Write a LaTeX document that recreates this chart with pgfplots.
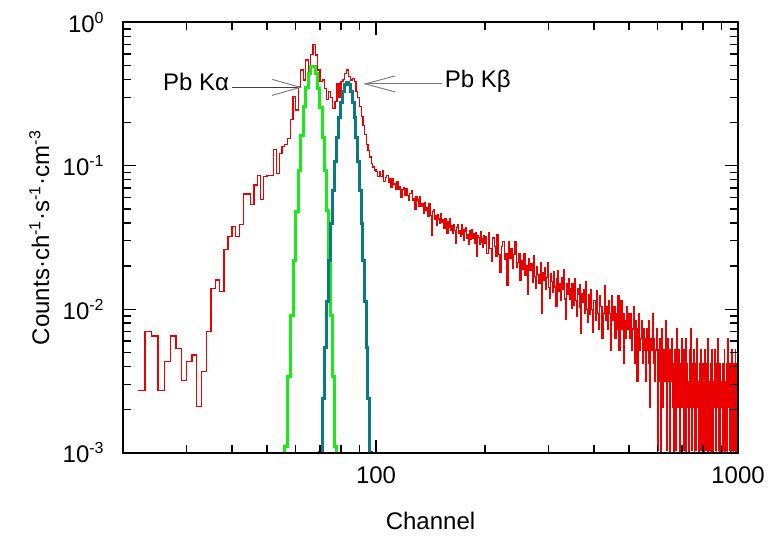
\documentclass[12pt,border=0pt]{standalone}
\usepackage{fontspec}
\setmainfont{Liberation Sans}
\usepackage{pgfplots}
\pgfplotsset{compat=1.18}

\definecolor{specred}{RGB}{235,0,0}
\definecolor{kagreen}{RGB}{25,235,25}
\definecolor{kbteal}{RGB}{10,122,128}

\begin{document}
\begin{tikzpicture}
\begin{axis}[
    name=ax,
    xmode=log, ymode=log,
    scale only axis,
    width=307.5pt, height=215.2pt,
    xmin=20, xmax=1000, ymin=1e-3, ymax=1,
    axis on top,
    xtick pos=both, ytick pos=both, tick align=inside,
    xtick={100,1000}, xticklabels={100,1000},
    minor xtick={30,40,50,60,70,80,90,200,300,400,500,600,700,800,900},
    ytick={0.001,0.01,0.1,1},
    yticklabels={10\textsuperscript{-3},10\textsuperscript{-2},10\textsuperscript{-1},10\textsuperscript{0}},
    minor ytick={0.002,0.003,0.004,0.005,0.006,0.007,0.008,0.009,0.02,0.03,0.04,0.05,0.06,0.07,0.08,0.09,0.2,0.3,0.4,0.5,0.6,0.7,0.8,0.9},
    major tick length=6.5pt, minor tick length=4pt,
    tick style={black, line width=0.7pt},
    axis line style={line width=0.8pt},
    xticklabel shift=7pt, yticklabel shift=9pt,
    every x tick label/.append style={inner sep=0pt},
    every y tick label/.append style={inner sep=0pt},
    xlabel={Channel},
    ylabel={Counts·ch\textsuperscript{-1}·s\textsuperscript{-1}·cm\textsuperscript{-3}},
    xlabel style={at={(axis description cs:0.5,-0.1794)}, anchor=base},
    ylabel style={at={(axis description cs:-0.1203,0.5)}, anchor=base},
]

% measured spectrum
\addplot[specred, line width=0.6pt] coordinates {(20,0.0016) (20,0.0059)};
\addplot[const plot, specred, line width=0.6pt] coordinates {
(22,0.0027)(23,0.0070)(24,0.0065)(25,0.0027)(26,0.0043)(27,0.0065)(28,0.0053)(29,0.0032)
(30,0.0043)(31,0.0048)(32,0.0021)(33,0.0037)(34,0.0070)(35,0.0140)(36,0.0160)(37,0.0133)
(38,0.026)(39,0.032)(40,0.0377)(41,0.032)(42,0.039)(43,0.0636)(44,0.0636)(45,0.054)
(46,0.0735)(47,0.085)(48,0.058)(49,0.084)(50,0.085)(51,0.085)(52,0.130)(53,0.088)
(54,0.122)(55,0.136)(56,0.140)(57,0.155)(58,0.21)(59,0.303)(60,0.245)(61,0.356)
(62,0.465)(63,0.396)(64,0.546)(65,0.43)(66,0.60)(67,0.70)(68,0.592)(69,0.465)
(70,0.386)(71,0.396)(72,0.347)(73,0.288)(74,0.33)(75,0.30)(76,0.251)(77,0.28)
(78,0.376)(79,0.30)(80,0.386)(81,0.40)(82,0.441)(83,0.465)(84,0.42)(85,0.396)
(86,0.407)(87,0.386)(88,0.33)(89,0.30)(90,0.26)(91,0.22)(92,0.19)(93,0.165)
(94,0.14)(95,0.128)(96,0.115)(97,0.104)(98,0.098)(99,0.0935)
(100,0.0908)(101,0.0845)(102,0.0914)(103,0.0843)(104,0.0918)(105,0.0781)(106,0.0830)(107,0.0859)
(108,0.0760)(109,0.0814)(110,0.0702)(111,0.0813)(112,0.0747)(113,0.0686)(114,0.0781)(115,0.0679)
(116,0.0718)(117,0.0598)(118,0.0683)(119,0.0700)(120,0.0618)(121,0.0698)(122,0.0624)(123,0.0570)
(124,0.0641)(125,0.0672)(126,0.0571)(127,0.0590)(128,0.0493)(129,0.0610)(130,0.0577)(131,0.0517)
(132,0.0605)(133,0.0524)(134,0.0541)(135,0.0468)(136,0.0551)(137,0.0485)(138,0.0510)(139,0.0446)
(140,0.0546)(141,0.0451)(142,0.0326)(143,0.0483)(144,0.0495)(145,0.0423)(146,0.0449)(147,0.0387)
(148,0.0460)(149,0.0425)(150,0.0395)(151,0.0465)(152,0.0402)(153,0.0421)(154,0.0364)(155,0.0431)
(156,0.0394)(157,0.0337)(158,0.0406)(159,0.0369)(160,0.0426)(161,0.0354)(162,0.0381)(163,0.0338)
(164,0.0392)(165,0.0356)(166,0.0286)(167,0.0373)(168,0.0387)(169,0.0336)(170,0.0354)(171,0.0321)
(172,0.0391)(173,0.0333)(174,0.0359)(175,0.0303)(176,0.0348)(177,0.0370)(178,0.0311)(179,0.0329)
(180,0.0281)(181,0.0351)(182,0.0330)(183,0.0306)(184,0.0360)(185,0.0310)(186,0.0334)(187,0.0288)
(188,0.0342)(189,0.0309)(190,0.0233)(191,0.0326)(192,0.0315)(193,0.0284)(194,0.0350)(195,0.0290)
(196,0.0312)(197,0.0268)(198,0.0325)(199,0.0287)
(200,0.0319)(202,0.0244)(204,0.0340)(206,0.0266)(208,0.0215)(210,0.0314)(212,0.0275)(214,0.0235)
(216,0.0330)(218,0.0240)(220,0.0181)(222,0.0275)(224,0.0297)(226,0.0224)(228,0.0246)(230,0.0146)
(232,0.0294)(234,0.0226)(236,0.0263)(238,0.0193)(240,0.0242)(242,0.0294)(244,0.0195)(246,0.0211)
(248,0.0244)(250,0.0158)(252,0.0220)(254,0.0189)(256,0.0244)(258,0.0172)(260,0.0202)(262,0.0127)
(264,0.0224)(266,0.0186)(268,0.0207)(270,0.0153)(272,0.0236)(274,0.0170)(276,0.0140)(278,0.0198)
(280,0.0175)(282,0.0152)(284,0.0212)(286,0.0093)(288,0.0181)(290,0.0159)(292,0.0194)(294,0.0137)
(296,0.0167)(298,0.0211)(300,0.0142)(302,0.0119)(304,0.0177)(306,0.0157)(308,0.0132)(310,0.0182)
(312,0.0143)(314,0.0104)(316,0.0163)(318,0.0185)(320,0.0134)(322,0.0151)(324,0.0115)(326,0.0165)
(328,0.0138)(330,0.0189)(332,0.0118)(334,0.0085)(336,0.0152)(338,0.0127)(340,0.0163)(342,0.0117)
(344,0.0140)(346,0.0101)(348,0.0152)(350,0.0128)(352,0.0107)(354,0.0164)(356,0.0115)(358,0.0089)
(360,0.0139)(362,0.0126)(364,0.0103)(366,0.0148)(368,0.0068)(370,0.0129)(372,0.0111)(374,0.0138)
(376,0.0093)(378,0.0120)(380,0.0155)(382,0.0100)(384,0.0081)(386,0.0126)(388,0.0108)(390,0.0092)
(392,0.0136)(394,0.0099)(396,0.0069)(398,0.0115)
(400,0.01144)(403,0.00832)(406,0.01352)(409,0.00936)(412,0.00728)(415,0.01248)(418,0.0104)(421,0.00624)
(424,0.00936)(427,0.01456)(430,0.00832)(433,0.0104)(436,0.00728)(439,0.01144)(442,0.00936)(445,0.0052)
(448,0.01248)(451,0.00832)(454,0.0104)(457,0.00624)(460,0.00936)(463,0.00728)(466,0.01248)(469,0.0052)
(472,0.00832)(475,0.01144)(478,0.00728)(481,0.00936)(484,0.00416)(487,0.00832)(490,0.00624)(493,0.0104)
(496,0.00728)(499,0.00936)(502,0.00624)(505,0.00936)(508,0.0052)(511,0.00728)(514,0.0104)(517,0.00416)
(520,0.00832)(523,0.00624)(526,0.00312)(529,0.00728)(532,0.00936)(535,0.0052)(538,0.00624)(541,0.00832)
(544,0.00416)(547,0.00728)(550,0.0052)(553,0.00624)(556,0.00312)(559,0.00728)(562,0.0052)(565,0.00832)
(568,0.00416)(571,0.00208)(574,0.00624)(577,0.0052)(580,0.00936)(583,0.00416)(586,0.00624)(589,0.00312)
(592,0.0052)(595,0.00728)(598,0.00104)(601,0.0052)(604,0.00312)(607,0.00624)(610,0.0005)(613,0.00416)
(616,0.00728)(619,0.00208)(622,0.0052)(625,0.00416)(628,0.00312)(631,0.00832)(634,0.00104)(637,0.00416)
(640,0.00624)(643,0.00312)(646,0.0005)(649,0.0052)(652,0.00312)(655,0.00624)(658,0.00208)(661,0.00416)
(664,0.0005)(667,0.0052)(670,0.00312)(673,0.00104)(676,0.00728)(679,0.00416)(682,0.00208)(685,0.0052)
(688,0.00312)(691,0.0005)(694,0.00416)(697,0.00624)(700,0.00208)(703,0.00416)(706,0.00104)(709,0.0052)
(712,0.00312)(715,0.0005)(718,0.00624)(721,0.00208)(724,0.00416)(727,0.00312)(730,0.0005)(733,0.0052)
(736,0.00208)(739,0.00728)(742,0.00312)(745,0.00104)(748,0.00416)(751,0.00208)(754,0.0052)(757,0.0005)
(760,0.00312)(763,0.00416)(766,0.00104)(769,0.00624)(772,0.00208)(775,0.00312)(778,0.0005)(781,0.00416)
(784,0.00208)(787,0.0052)(790,0.00104)(793,0.00312)(796,0.0005)(799,0.00416)(802,0.00312)(805,0.0005)
(808,0.0052)(811,0.00208)(814,0.00104)(817,0.00416)(820,0.00312)(823,0.0005)(826,0.00624)(829,0.00208)
(832,0.00312)(835,0.00104)(838,0.00416)(841,0.0005)(844,0.00208)(847,0.0052)(850,0.00312)(853,0.0005)
(856,0.00312)(859,0.00208)(862,0.0052)(865,0.00104)(868,0.00416)(871,0.0005)(874,0.00312)(877,0.00208)
(880,0.00624)(883,0.00104)(886,0.00312)(889,0.0005)(892,0.00416)(895,0.00208)(898,0.00312)(901,0.00208)
(904,0.0005)(907,0.00416)(910,0.00104)(913,0.00312)(916,0.0052)(919,0.0005)(922,0.00208)(925,0.00312)
(928,0.00104)(931,0.00416)(934,0.0005)(937,0.00624)(940,0.00208)(943,0.00312)(946,0.00104)(949,0.00416)
(952,0.00312)(955,0.0005)(958,0.00208)(961,0.0052)(964,0.00104)(967,0.00312)(970,0.0005)(973,0.00416)
(976,0.00208)(979,0.00104)(982,0.0052)(985,0.0005)(988,0.00312)(991,0.00208)(994,0.00416)(997,0.00104)
(1000,0.00104)
};

% Pb K-alpha peak
\addplot[const plot, kagreen, line width=1.5pt] coordinates {
(56,0.0005)(56,0.0011)(57,0.0034)(58,0.0090)(59,0.022)(60,0.0477)(61,0.093)(62,0.162)
(63,0.258)(64,0.353)(65,0.441)(66,0.493)(67,0.490)(68,0.438)(69,0.347)(70,0.253)
(71,0.158)(72,0.093)(73,0.049)(74,0.021)(75,0.0090)(76,0.0034)(77,0.0011)(78,0.0005)
};

% Pb K-beta peak
\addplot[const plot, kbteal, line width=1.5pt] coordinates {
(70,0.0005)(70,0.0010)(71,0.0024)(72,0.0054)(73,0.0113)(74,0.0219)(75,0.0399)(76,0.0677)
(77,0.107)(78,0.158)(79,0.216)(80,0.277)(81,0.330)(82,0.367)(83,0.380)(84,0.367)
(85,0.330)(86,0.277)(87,0.216)(88,0.158)(89,0.107)(90,0.0677)(91,0.0399)(92,0.0219)
(93,0.0113)(94,0.0054)(95,0.0024)(96,0.0010)(97,0.0005)
};

% annotations
\draw[black!75, line width=0.5pt] (axis cs:40.1,0.352) -- (axis cs:61.7,0.352);
\draw[black!50, line width=0.5pt] (axis cs:61.7,0.352) ++(-14pt,4pt) -- (axis cs:61.7,0.352) -- ++(-14pt,-4pt);
\node[anchor=base east, inner sep=0pt, xshift=-1.5pt, yshift=-1.4pt] at (axis cs:40.1,0.352) {Pb Kα};

\draw[black!55, line width=0.5pt] (axis cs:93.3,0.372) -- (axis cs:151.7,0.372);
\draw[black!50, line width=0.5pt] (axis cs:93.3,0.372) ++(15pt,4pt) -- (axis cs:93.3,0.372) -- ++(15pt,-4pt);
\node[anchor=base west, inner sep=0pt, xshift=1.5pt, yshift=-2pt] at (axis cs:151.7,0.372) {Pb Kβ};
\end{axis}
% page frame with the reference's margins round the axis box
\path (ax.south west) ++(-61.5pt,-44.65pt) rectangle ++(384pt,271pt);
\end{tikzpicture}
\end{document}
